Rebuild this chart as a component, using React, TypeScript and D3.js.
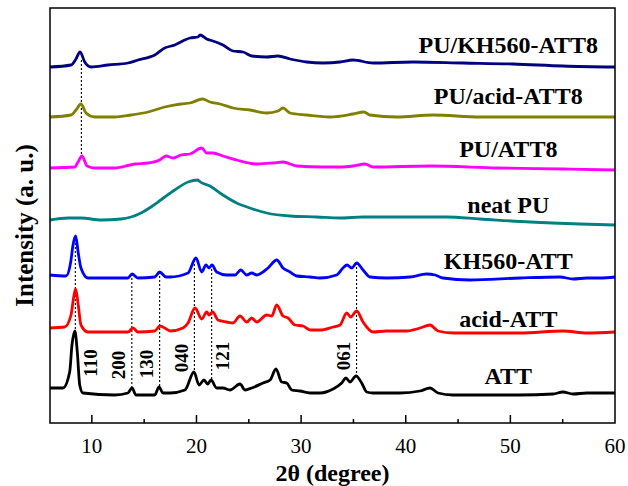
import * as d3 from 'd3'
import { useEffect, useRef } from 'react'

type Pt = [number, number]

// 2θ (degree) vs stacked intensity (a. u.)
const att: Pt[] = [
  [6, 35], [7.24, 35], [7.88, 51], [8.1, 78], [8.38, 92], [8.61, 71], [8.84, 38], [9.15, 30], [12.18, 28],
  [13.45, 30], [13.84, 35], [14.22, 28], [16.01, 28], [16.42, 36], [16.8, 30], [17.47, 30], [18.9, 33],
  [19.76, 51], [20.24, 38], [20.72, 43], [21.07, 39], [21.39, 43], [21.93, 35], [22.53, 35], [23.2, 33],
  [24.16, 39], [24.64, 33], [25.28, 35], [26.36, 40], [27.03, 43], [27.6, 54], [28.14, 41], [28.62, 40],
  [29.1, 33], [29.89, 32], [30.85, 30], [31.81, 30], [33.05, 34], [33.88, 40], [34.29, 45], [34.67, 41],
  [35.25, 47], [35.79, 40], [36.27, 31], [36.87, 30], [38.18, 30], [39.45, 30], [41.36, 32], [42.32, 35],
  [43.08, 30], [44.52, 28], [47.74, 28], [50.92, 28], [54.07, 29], [55.03, 31], [55.99, 29], [57.3, 30],
  [60, 30]
]
const acidAtt: Pt[] = [
  [6, 95], [7.4, 96], [8.01, 108], [8.25, 125], [8.45, 134], [8.7, 118], [8.96, 98], [9.63, 91], [13.45, 91],
  [13.93, 95], [14.41, 91], [16.01, 92], [16.51, 97], [17.28, 93], [17.47, 92], [18.71, 95], [19.19, 100],
  [19.86, 115], [20.5, 104], [20.98, 111], [21.2, 108], [21.55, 111], [22.06, 103], [22.89, 101], [23.49, 100],
  [24.16, 107], [24.8, 101], [25.28, 105], [25.76, 101], [26.71, 108], [27.19, 107], [27.67, 118], [28.27, 107],
  [28.75, 105], [29.42, 98], [30.18, 97], [30.85, 93], [31.81, 93], [33.05, 96], [33.72, 98], [34.36, 110],
  [34.74, 106], [35.31, 112], [35.92, 101], [36.87, 91], [38.18, 92], [40.09, 92], [41.36, 95], [42.32, 98],
  [43.08, 92], [44.52, 90], [50.92, 90], [55.03, 92], [57.32, 90], [60, 91]
]
const kh560Att: Pt[] = [
  [6, 148], [7.53, 147], [7.98, 161], [8.2, 178], [8.45, 187], [8.7, 170], [8.96, 155], [9.63, 145], [13.45, 145],
  [13.84, 149], [14.41, 145], [16.01, 146], [16.48, 151], [17.09, 146], [17.47, 146], [19.19, 150], [19.95, 165],
  [20.5, 151], [20.91, 158], [21.2, 155], [21.48, 158], [21.93, 151], [22.89, 148], [23.68, 148], [24.23, 153],
  [24.8, 148], [25.28, 150], [25.76, 148], [26.84, 155], [27.67, 163], [28.27, 155], [28.94, 151], [29.58, 147],
  [30.85, 146], [31.81, 145], [33.4, 148], [34.0, 155], [34.39, 158], [34.84, 155], [35.31, 160], [35.92, 153],
  [36.58, 146], [38.18, 145], [40.41, 146], [42.0, 149], [42.8, 148], [43.56, 145], [46.14, 143], [50.92, 145],
  [54.74, 146], [55.99, 144], [57.32, 145], [58.57, 145], [60, 146]
]
const neatPu: Pt[] = [
  [6, 203], [7.72, 205], [8.96, 205], [10.87, 203], [12.79, 204], [14.7, 210], [15.65, 216], [16.96, 226],
  [17.92, 233], [19.19, 241], [20.14, 243], [20.24, 242], [21.29, 237], [22.53, 228], [23.84, 220], [25.11, 215],
  [26.71, 210], [28.94, 207], [31.49, 206], [33.72, 205], [35.92, 206], [39.14, 206], [43.91, 206], [47.1, 204],
  [51.88, 201], [56.65, 199], [60, 198]
]
const puAtt8: Pt[] = [
  [6, 255], [8.36, 256], [8.68, 261], [9.06, 267], [9.54, 257], [10.27, 255], [12.18, 255], [14.1, 259],
  [15.37, 260], [16.48, 263], [17.09, 267], [17.76, 265], [18.52, 268], [19.38, 269], [20.5, 275], [20.98, 270],
  [21.58, 270], [22.53, 267], [23.84, 263], [25.76, 259], [27.31, 260], [28.27, 261], [29.58, 257], [32.09, 256],
  [33.72, 256], [34.96, 257], [36.11, 259], [36.87, 256], [42.32, 257], [48.72, 255], [55.03, 254], [60, 253]
]
const puAcidAtt8: Pt[] = [
  [6, 306], [8.01, 308], [8.48, 313], [8.96, 319], [9.44, 310], [10.27, 306], [12.18, 306], [13.74, 308],
  [15.37, 311], [16.96, 316], [18.52, 319], [19.38, 320], [20.59, 324], [21.29, 321], [22.25, 319], [23.49, 315],
  [25.11, 313], [26.71, 310], [27.79, 312], [28.27, 315], [28.94, 310], [30.53, 308], [32.76, 306], [34.96, 309],
  [36.0, 311], [36.58, 308], [39.14, 306], [42.61, 308], [47.1, 306], [51.88, 306], [60, 306]
]
const puKh560Att8: Pt[] = [
  [6, 356], [8.01, 358], [8.48, 364], [8.87, 371], [9.32, 361], [9.92, 356], [11.54, 358], [13.45, 360],
  [14.41, 363], [16.01, 368], [16.96, 375], [17.92, 378], [18.87, 383], [19.38, 385], [20.14, 386], [20.34, 388],
  [20.98, 384], [21.58, 382], [22.53, 378], [23.49, 372], [24.45, 371], [25.28, 367], [26.71, 366], [27.79, 367],
  [28.94, 364], [30.53, 361], [32.09, 360], [33.72, 361], [34.96, 363], [36.87, 360], [40.69, 361], [45.47, 360],
  [50.25, 359], [55.03, 357], [60, 356]
]

const seriesNames = ['ATT', 'acid-ATT', 'KH560-ATT', 'neat PU', 'PU/ATT8', 'PU/acid-ATT8', 'PU/KH560-ATT8']
const seriesData = [att, acidAtt, kh560Att, neatPu, puAtt8, puAcidAtt8, puKh560Att8]
const seriesColors = ['#000000', '#ff0000', '#0000ff', '#008080', '#ff00ff', '#808000', '#000080']
// intensity at which each curve's name sits
const labelLevels = [39, 96, 154, 210, 266, 319, 370]

// dotted guide lines: [2θ, from, to]
const guides: [number, number, number][] = [
  [9.0, 363, 268], [8.42, 180, 93], [13.82, 149, 35], [16.48, 151, 36],
  [19.8, 163, 51], [21.45, 158, 43], [35.3, 160, 47]
]
// Miller indices: [label, 2θ, intensity]
const peakLabels: [string, number, number][] = [
  ['110', 9.83, 60], ['200', 12.5, 58], ['130', 15.2, 59], ['040', 18.55, 65], ['121', 22.5, 67], ['061', 34.0, 67]
]
const majorTicks = [10, 20, 30, 40, 50, 60]
const minorTicks = [15, 25, 35, 45, 55]

const W = 628
const H = 486
const m = { left: 50, right: 13, top: 8, bottom: 63 }
const font = 'Liberation Serif, Times New Roman, Times, serif'

export default function App() {
  const svgRef = useRef<SVGSVGElement>(null)

  useEffect(() => {
    const svg = d3.select(svgRef.current)
    svg.selectAll('*').remove()

    const x = d3.scaleLinear().domain([6, 60]).range([m.left, W - m.right])
    const y = d3.scaleLinear().domain([0, 415]).range([H - m.bottom, m.top])

    // guides behind curves
    svg.append('g').selectAll('line').data(guides).join('line')
      .attr('x1', d => x(d[0])).attr('x2', d => x(d[0]))
      .attr('y1', d => y(d[1])).attr('y2', d => y(d[2]))
      .attr('stroke', '#000').attr('stroke-width', 1.1).attr('stroke-dasharray', '2,2')

    const line = d3.line<Pt>().x(d => x(d[0])).y(d => y(d[1])).curve(d3.curveMonotoneX)
    svg.append('g').selectAll('path').data(seriesData).join('path')
      .attr('d', d => line(d))
      .attr('fill', 'none')
      .attr('stroke', (_, i) => seriesColors[i])
      .attr('stroke-width', 2.8)
      .attr('stroke-linejoin', 'round')

    const txt = svg.append('g').attr('font-family', font)

    // series names
    txt.append('g').selectAll('text').data(seriesNames).join('text')
      .attr('x', x(49.8)).attr('y', (_, i) => y(labelLevels[i]))
      .attr('text-anchor', 'middle')
      .attr('font-weight', 'bold').attr('font-size', 24)
      .text(d => d)

    // peak indices, rotated
    txt.append('g').selectAll('text').data(peakLabels).join('text')
      .attr('transform', d => `translate(${x(d[1])},${y(d[2])}) rotate(-90)`)
      .attr('text-anchor', 'middle').attr('dy', '0.35em')
      .attr('font-weight', 'bold').attr('font-size', 19)
      .text(d => d[0])

    // frame
    svg.append('rect')
      .attr('x', m.left).attr('y', m.top)
      .attr('width', W - m.left - m.right).attr('height', H - m.top - m.bottom)
      .attr('fill', 'none').attr('stroke', '#000').attr('stroke-width', 1.5)

    const yb = H - m.bottom
    svg.append('g').selectAll('line').data(majorTicks.slice(0, -1)).join('line')
      .attr('x1', d => x(d)).attr('x2', d => x(d)).attr('y1', yb).attr('y2', yb - 8)
      .attr('stroke', '#000').attr('stroke-width', 1.5)
    svg.append('g').selectAll('line').data(minorTicks).join('line')
      .attr('x1', d => x(d)).attr('x2', d => x(d)).attr('y1', yb).attr('y2', yb - 4)
      .attr('stroke', '#000').attr('stroke-width', 1.5)

    txt.append('g').selectAll('text').data(majorTicks).join('text')
      .attr('x', d => x(d)).attr('y', yb + 30)
      .attr('text-anchor', 'middle').attr('font-size', 21)
      .text(d => d)

    txt.append('text')
      .attr('x', (m.left + W - m.right) / 2).attr('y', H - 5)
      .attr('text-anchor', 'middle')
      .attr('font-weight', 'bold').attr('font-size', 24)
      .text('2θ (degree)')

    txt.append('text')
      .attr('transform', `translate(33,${(m.top + yb) / 2 + 10}) rotate(-90)`)
      .attr('text-anchor', 'middle')
      .attr('font-weight', 'bold').attr('font-size', 25)
      .text('Intensity (a. u.)')
  }, [])

  return (
    <svg ref={svgRef} width={W} height={H}
      style={{ position: 'absolute', left: 0, top: 0, background: '#fff' }} />
  )
}
